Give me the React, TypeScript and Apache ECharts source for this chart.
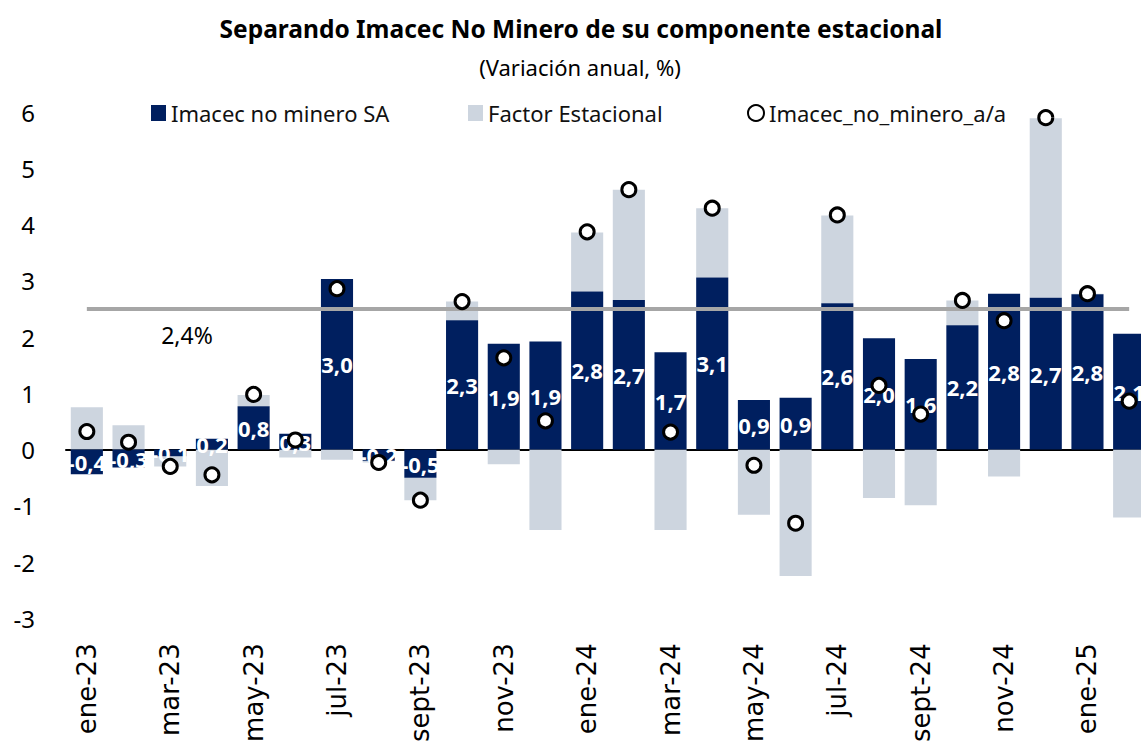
import React, { useEffect, useRef } from "react";
import * as echarts from "echarts";

const months = [
  "ene-23", "feb-23", "mar-23", "abr-23", "may-23", "jun-23", "jul-23", "ago-23", "sept-23", "oct-23", "nov-23", "dic-23",
  "ene-24", "feb-24", "mar-24", "abr-24", "may-24", "jun-24", "jul-24", "ago-24", "sept-24", "oct-24", "nov-24", "dic-24",
  "ene-25", "feb-25",
];

const imacecSA = [
  -0.44, -0.32, -0.12, 0.19, 0.77, 0.28, 3.03, -0.2, -0.5, 2.3, 1.88, 1.92,
  2.81, 2.66, 1.73, 3.06, 0.88, 0.92, 2.6, 1.98, 1.61, 2.21, 2.77, 2.7,
  2.76, 2.06,
];

const factorEstacional = [
  0.75, 0.43, -0.18, -0.65, 0.2, -0.14, -0.18, -0.03, -0.4, 0.33, -0.26, -1.43,
  1.05, 1.96, -1.43, 1.23, -1.16, -2.25, 1.56, -0.86, -0.99, 0.44, -0.48, 3.19,
  0.01, -1.21,
];

const imacecAA = [
  0.32, 0.13, -0.3, -0.45, 0.98, 0.17, 2.86, -0.23, -0.9, 2.63, 1.63, 0.51,
  3.87, 4.62, 0.31, 4.29, -0.28, -1.31, 4.17, 1.14, 0.63, 2.65, 2.29, 5.9,
  2.77, 0.86,
];

const refLineValue = 2.5;
const refLineLabel = "2,4%";

const yTicks = { min: -3, max: 6, interval: 1 };

const TITLE = "Separando Imacec No Minero de su componente estacional";
const SUBTITLE = "(Variación anual, %)";

const NAVY = "#001f5f";
const LIGHT = "#cdd5df";
const GRAYLINE = "#a6a6a6";
const FONT = "'Noto Sans', sans-serif";

const CANVAS_W = 1152;

export default function App() {
  const ref = useRef<HTMLDivElement>(null);

  useEffect(() => {
    if (!ref.current) return;
    const chart = echarts.init(ref.current, undefined, { renderer: "svg" });
    const option = {
      animation: false,
      backgroundColor: "#ffffff",
      textStyle: { fontFamily: FONT },
      grid: { left: 66, right: CANVAS_W - 66 - 1084, top: 112, bottom: 123 },
      legend: [
        {
          left: 146, top: 97, itemWidth: 15, itemHeight: 16, icon: "rect",
          data: ["Imacec no minero SA"],
          textStyle: { fontSize: 22, color: "#111", fontFamily: FONT },
        },
        {
          left: 463, top: 97, itemWidth: 15, itemHeight: 16, icon: "rect",
          data: ["Factor Estacional"],
          textStyle: { fontSize: 22, color: "#111", fontFamily: FONT },
        },
        {
          left: 742, top: 97, itemWidth: 16, itemHeight: 16,
          data: [{ name: "Imacec_no_minero_a/a", icon: "circle" }],
          textStyle: { fontSize: 22, color: "#111", fontFamily: FONT },
        },
      ],
      xAxis: [
        {
          type: "category",
          data: months,
          position: "bottom",
          axisLine: { show: false, onZero: false },
          axisTick: { show: false },
          axisLabel: {
            interval: 1,
            rotate: 90,
            margin: 25,
            fontSize: 26,
            color: "#000",
            fontFamily: "'DejaVu Sans', sans-serif",
          },
        },
        {
          type: "category",
          data: months,
          axisLine: { show: true, onZero: true, lineStyle: { color: "#000", width: 2 } },
          axisTick: { show: false },
          axisLabel: { show: false },
        },
      ],
      yAxis: {
        type: "value",
        min: yTicks.min,
        max: yTicks.max,
        interval: yTicks.interval,
        splitLine: { show: false },
        axisLine: { show: false },
        axisTick: { show: false },
        axisLabel: { fontSize: 24, color: "#000", margin: 31, fontFamily: FONT },
      },
      series: [
        {
          name: "Imacec no minero SA",
          type: "bar",
          stack: "total",
          barCategoryGap: "23%",
          data: imacecSA,
          itemStyle: { color: NAVY },
          label: {
            show: true,
            position: "inside",
            color: "#fff",
            fontWeight: "bold",
            fontSize: 22,
            fontFamily: FONT,
            formatter: (p: any) => Number(p.value).toFixed(1).replace(".", ","),
          },
          z: 2,
        },
        {
          name: "Factor Estacional",
          type: "bar",
          stack: "total",
          data: factorEstacional,
          itemStyle: { color: LIGHT },
          z: 1,
        },
        {
          name: "Línea referencia",
          type: "line",
          data: months.map(() => refLineValue),
          symbol: "none",
          lineStyle: { color: GRAYLINE, width: 4 },
          z: 3,
          silent: true,
        },
        {
          name: "Imacec_no_minero_a/a",
          type: "scatter",
          data: imacecAA,
          symbol: "circle",
          symbolSize: 14,
          itemStyle: { color: "#fff", borderColor: "#000", borderWidth: 3, opacity: 1 },
          z: 4,
        },
      ],
      graphic: [
        {
          type: "text",
          x: 581,
          y: 28,
          style: {
            text: TITLE,
            textAlign: "center",
            textVerticalAlign: "middle",
            fontSize: 24.5,
            fontWeight: "bold",
            fontFamily: FONT,
            fill: "#000",
          },
        },
        {
          type: "text",
          x: 580,
          y: 67,
          style: {
            text: SUBTITLE,
            textAlign: "center",
            textVerticalAlign: "middle",
            fontSize: 22,
            fontFamily: FONT,
            fill: "#000",
          },
        },
        {
          type: "text",
          x: 187,
          y: 335,
          style: {
            text: refLineLabel,
            textAlign: "center",
            textVerticalAlign: "middle",
            fontSize: 23,
            fontFamily: FONT,
            fill: "#000",
          },
        },
      ],
    };
    chart.setOption(option as any);
    return () => chart.dispose();
  }, []);

  return (
    <div
      ref={ref}
      style={{ position: "fixed", left: 0, top: 0, width: CANVAS_W, height: 745, background: "#fff" }}
    />
  );
}
